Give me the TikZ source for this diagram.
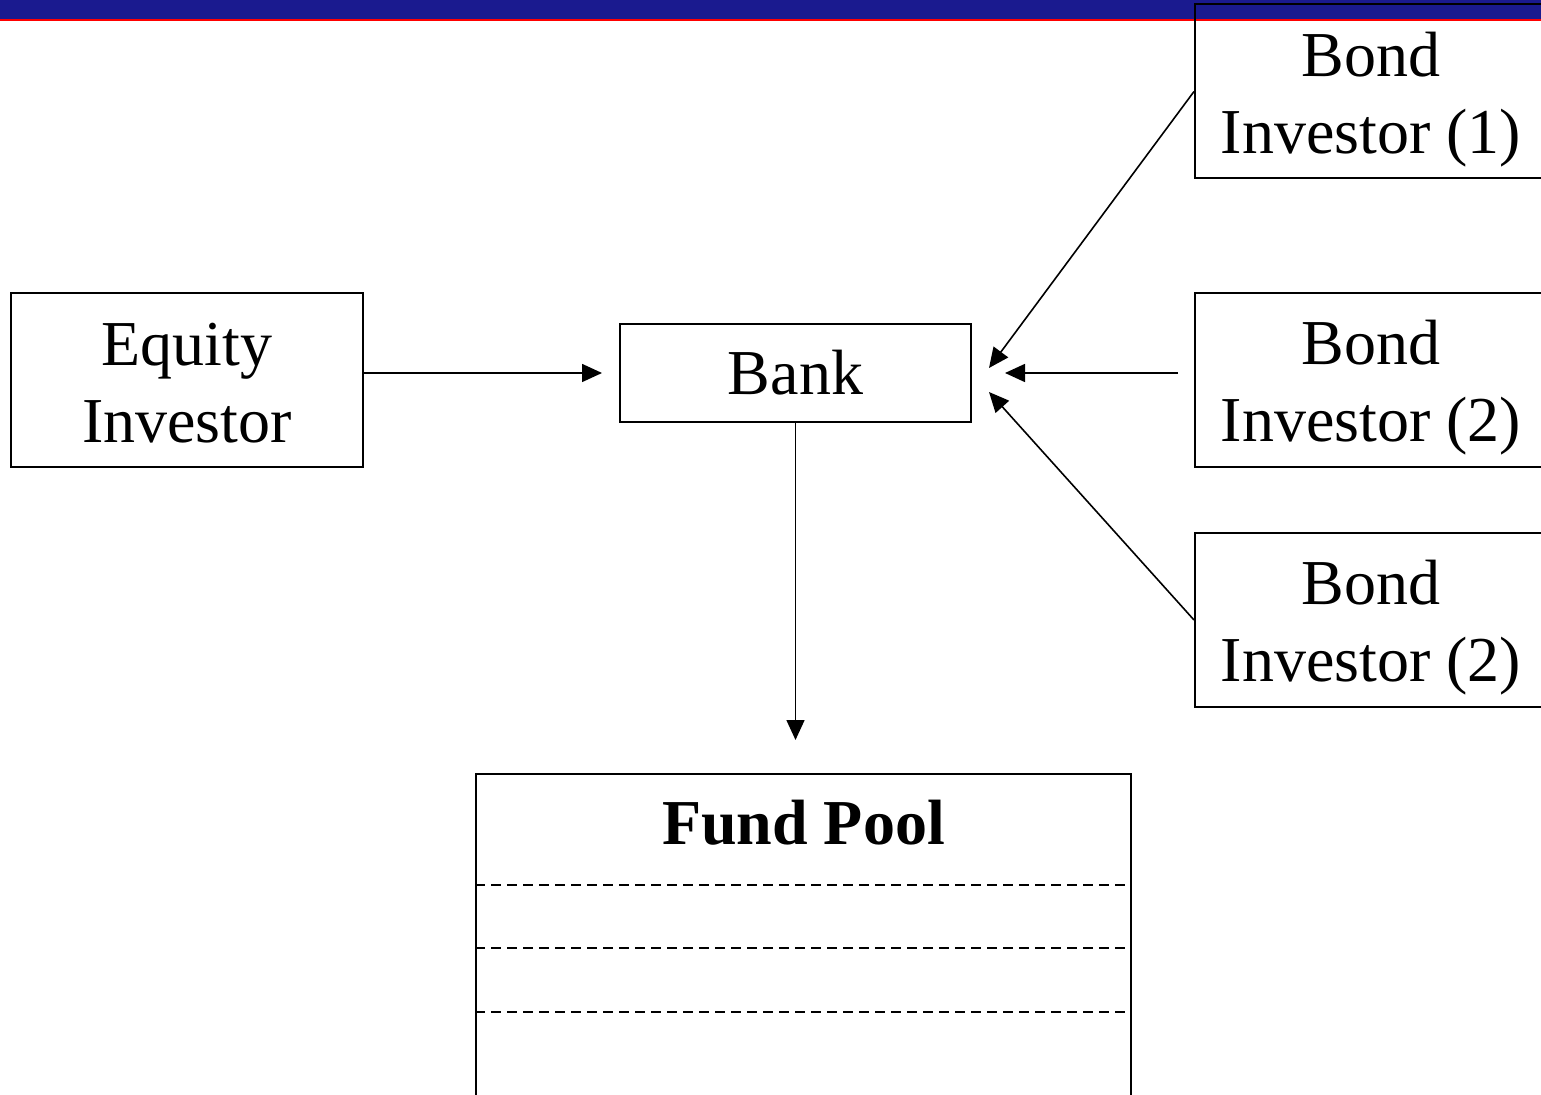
\documentclass[tikz,border=0pt]{standalone}
\usepackage{fontspec}
\setmainfont{Liberation Serif}
\usetikzlibrary{positioning, arrows.meta, calc}
\definecolor{barblue}{RGB}{26,26,143}
\newcommand{\barcolor}{barblue}
\newcommand{\barlinecolor}{red}
\newcommand{\bondlift}{\rule{0pt}{30pt}}

\begin{document}
\begin{tikzpicture}[
      % GLOBAL CFG
      x=0.5pt, y=-0.5pt,
      font=\fontsize{32}{38.5}\selectfont,
      >={Triangle[length=10pt,width=9pt]},
      % Styles
      rep/.style={% For the parties
        rectangle,
        draw,
        line width=1pt,
        inner sep=0pt,
        align=center,
        minimum width=176pt,
        minimum height=87pt
      },
      arrowflow/.style={% Arrows for money flows
        ->,
        line width=0.8pt
      },
      poolrow/.style={% Rows of the pool
        dash pattern=on 5pt off 3pt,
        line width=0.8pt
      }
      ]

      \useasboundingbox (0,0) rectangle (1541,1095);
      \clip (0,0) rectangle (1541,1095);

      % Header bar
      \fill [\barcolor] (0,0) rectangle (1541,19);
      \fill [\barlinecolor] (0,19) rectangle (1541,21.5);

      % Parties
      \node [rep] (equity) at (187,380) {\rule{0pt}{24pt}Equity\\Investor};
      \node [rep, minimum width=175.5pt, minimum height=49pt] (bank) at (795.5,373) {Bank};
      \node [rep] (bond1) at (1371,91.5) {\bondlift Bond\\Investor (1)};
      \node [rep] (bond2) at (1371,380) {\bondlift Bond\\Investor (2)};
      \node [rep] (bond3) at (1371,620) {\bondlift Bond\\Investor (2)};

      % Fund pool
      \node [rep, minimum width=327.5pt, minimum height=200pt, anchor=north] (pool) at (803.5,773) {};
      \node [font=\fontsize{32}{38.5}\selectfont\bfseries] (pooltitle) at ($(pool.north)+(0,50)$) {Fund Pool};
      \draw [poolrow] ($(pool.north west)+(0,112)$) -- ($(pool.north east)+(0,112)$);
      \draw [poolrow] ($(pool.north west)+(0,175)$) -- ($(pool.north east)+(0,175)$);
      \draw [poolrow] ($(pool.north west)+(0,239)$) -- ($(pool.north east)+(0,239)$);

      % Flows
      \draw [arrowflow] (equity.east |- bank.west) -- ([xshift=-8.5pt]bank.west);
      \draw [arrowflow] (bank.south) -- ([yshift=16.5pt]bank.south |- pool.north);
      \draw [arrowflow] (bond1.west) -- ([shift={(8.5pt,2.5pt)}]bank.east);
      \draw [arrowflow, shorten <=8pt] (bond2.west |- bank.east) -- ([xshift=16.5pt]bank.east);
      \draw [arrowflow] (bond3.west) -- ([shift={(8.5pt,-9.5pt)}]bank.east);

    \end{tikzpicture}
\end{document}
